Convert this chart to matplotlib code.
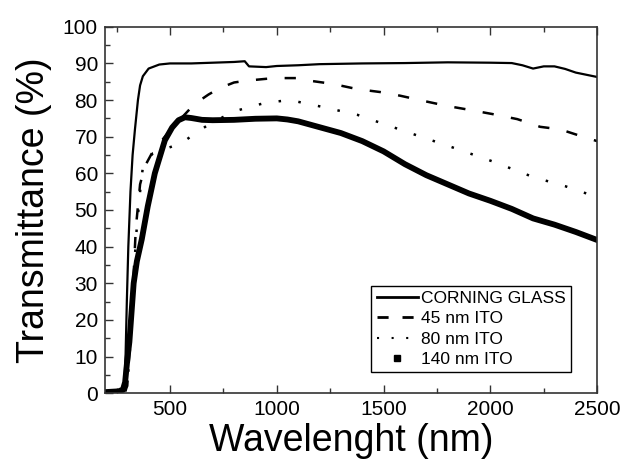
import numpy as np
import matplotlib.pyplot as plt
from matplotlib.lines import Line2D
from matplotlib.ticker import MultipleLocator

plt.rcParams['font.family'] = ['Liberation Sans', 'DejaVu Sans']

# Corning glass substrate
glass_wl = [200, 250, 285, 292, 298, 305, 315, 325, 336, 350, 360, 373, 400, 450, 500, 600, 700, 800,
            850, 870, 950, 1000, 1100, 1200, 1400, 1600, 1800, 2000, 2100, 2150, 2200, 2250, 2300,
            2350, 2400, 2500]
glass_t = [0.2, 0.3, 0.5, 10, 25, 40, 55, 65, 72, 80, 84, 86.5, 88.6, 89.7, 90, 90, 90.2, 90.4,
           90.6, 89.2, 89.0, 89.3, 89.5, 89.8, 90.0, 90.1, 90.3, 90.2, 90.1, 89.5, 88.6, 89.2, 89.2,
           88.5, 87.5, 86.3]

# 45 nm ITO
ito45_wl = [290, 300, 320, 340, 360, 383, 420, 476, 520, 560, 600, 630, 680, 734, 800, 860, 950, 1000,
            1100, 1165, 1263, 1376, 1483, 1577, 1685, 1797, 1905, 2008, 2126, 2233, 2327, 2454, 2500]
ito45_t = [0.5, 2, 20, 45, 57, 62, 66, 70, 73, 75.5, 78, 79.5, 81.5, 83.3, 84.8, 85.3, 85.8, 86,
           86, 85.2, 84.4, 83, 82.2, 81.2, 79.8, 78.4, 77.3, 76.2, 74.8, 72.7, 72, 69.6, 68.8]

# 80 nm ITO
ito80_wl = [290, 300, 320, 340, 360, 373, 420, 470, 556, 608, 678, 795, 865, 950, 1062, 1118, 1200,
            1376, 1500, 1624, 1812, 2013, 2200, 2350, 2500]
ito80_t = [0.5, 2, 18, 42, 55, 61.7, 65.5, 66.5, 68.3, 70.5, 73.2, 76.8, 78, 79.3, 80, 79.3, 78.3,
           76, 73.5, 71, 67.3, 63.2, 59, 56.5, 53.5]

# 140 nm ITO
ito140_wl = [200, 260, 280, 290, 300, 310, 320, 330, 345, 368, 396, 429, 476, 510, 540, 570, 600, 650,
             700, 800, 900, 1000, 1050, 1100, 1200, 1300, 1400, 1500, 1600, 1700, 1800, 1900, 2000,
             2100, 2200, 2300, 2400, 2500]
ito140_t = [0.3, 0.5, 1, 3, 9, 14, 22, 30, 36, 42, 51, 60, 69, 72.5, 74.5, 75.3, 75.1, 74.6,
            74.5, 74.6, 74.9, 75, 74.7, 74.2, 72.6, 71, 68.8, 66, 62.5, 59.5, 57, 54.5, 52.5,
            50.3, 47.7, 46, 44, 41.8]

fig = plt.figure(figsize=(6.24, 4.62), dpi=100)
ax = fig.add_axes([0.168, 0.149, 0.789, 0.793])

ax.plot(glass_wl, glass_t, color='black', lw=1.6)
ax.plot(ito45_wl, ito45_t, color='black', lw=1.8, linestyle=(0, (4.5, 7)))
ax.plot(ito80_wl, ito80_t, color='black', lw=1.8, linestyle=(0, (1, 7)))
ax.plot(ito140_wl, ito140_t, color='black', lw=4.2)

ax.set_xlim(195, 2500)
ax.set_ylim(0, 100)
ax.xaxis.set_major_locator(MultipleLocator(500))
ax.xaxis.set_minor_locator(MultipleLocator(250))
ax.yaxis.set_major_locator(MultipleLocator(10))
ax.yaxis.set_minor_locator(MultipleLocator(5))
ax.tick_params(which='both', direction='in', top=True, right=False, colors='#333333',
               labelcolor='black', labelsize=15)
ax.tick_params(which='major', length=6, width=1, pad=5)
ax.tick_params(which='minor', length=3.5, width=1)
for s in ax.spines.values():
    s.set_color('#333333')
    s.set_linewidth(1.2)

ax.set_xlabel('Wavelenght (nm)', fontsize=27, labelpad=3)
ax.set_ylabel('Transmittance (%)', fontsize=27, labelpad=8)

handles = [
    Line2D([], [], color='black', lw=2),
    Line2D([], [], color='black', lw=2, linestyle=(0, (4, 5))),
    Line2D([], [], color='black', lw=1.5, linestyle=(0, (1, 6))),
    Line2D([], [], color='black', lw=0, marker='s', markersize=4),
]
labels = ['CORNING GLASS', '45 nm ITO', '80 nm ITO', '140 nm ITO']
leg = ax.legend(handles, labels, loc='lower right', bbox_to_anchor=(0.9465, 0.057), fontsize=12.5,
                frameon=True, fancybox=False, edgecolor='black', framealpha=1,
                handlelength=2.4, handletextpad=0.15, labelspacing=0.3, borderpad=0.3,
                borderaxespad=0)
leg.get_frame().set_linewidth(1)

fig.savefig('out.png', dpi=100)
